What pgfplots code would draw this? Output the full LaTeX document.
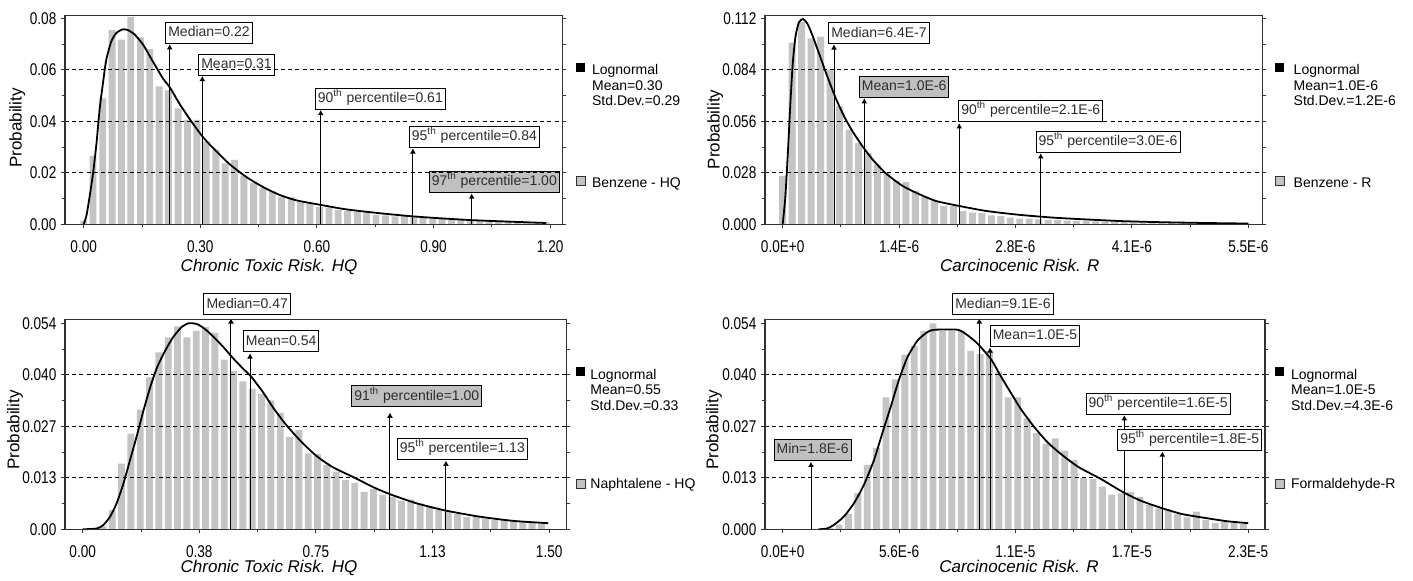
\documentclass[border=0pt]{standalone}
\usepackage{fontspec}
\setmainfont{Liberation Sans}
\newfontfamily\tickfamily{Liberation Sans}[FakeStretch=0.8]
\usepackage{pgfplots}
\pgfplotsset{compat=1.18}
\usetikzlibrary{arrows.meta}
\definecolor{bargray}{RGB}{196,196,196}
\definecolor{boxgray}{RGB}{192,192,192}
\definecolor{txtgray}{RGB}{45,45,45}
\definecolor{axgray}{RGB}{50,50,50}
\newcommand{\tickfont}{\tickfamily\fontsize{8.5}{9.5}\selectfont}
\newcommand{\boxfont}{\fontsize{7}{8}\selectfont}
\newcommand{\legfont}{\fontsize{7}{8}\selectfont}
\newcommand{\ord}[1]{#1\textsuperscript{th}}
\tikzset{
  lbl/.style={draw=black, line width=0.5pt, fill=white, font=\boxfont, text=txtgray,
    inner xsep=1.3pt, inner ysep=0pt, minimum height=10.5pt, text height=5.1pt, text depth=1.4pt,
    anchor=south west, outer sep=0pt},
  glbl/.style={lbl, fill=boxgray},
  legtxt/.style={anchor=base west, font=\legfont, inner sep=0pt, text=black},
}
\pgfplotsset{
  risk/.style={
    scale only axis, anchor=south west, clip=false, axis on top,
    scaled ticks=false,
    axis line style={axgray, line width=0.75pt},
    tick style={axgray, line width=0.5pt},
    tick align=outside, major tick length=1.8pt, minor tick length=1.6pt,
    xtick pos=left, ytick pos=both,
    ymin=0,
    ymajorgrids,
    major grid style={black, line width=0.45pt, dash pattern=on 2pt off 1.6pt},
    extra y tick style={grid=none},
    tick label style={font=\tickfont, text=black},
    xticklabel shift=3.0pt,
    yticklabel shift=-1pt,
    ylabel={Probability},
    ylabel style={font=\fontsize{8.5}{10}\selectfont, anchor=center},
    xlabel style={font=\itshape\fontsize{8.5}{10}\selectfont, anchor=base},
  },
  hist/.style={ybar, bar shift=0pt, bar width=#1, fill=bargray, draw=none, mark=none},
  fit/.style={black, line width=0.9pt, smooth, tension=0.4, mark=none},
  arr/.style={black, line width=0.5pt, mark=none, -{Latex[length=2.6pt,width=3pt]}},
}
\begin{document}
\begin{tikzpicture}
\useasboundingbox (0,0) rectangle (706.5pt,290.5pt);

% ---------------- Panel 1: Benzene - HQ ----------------
\begin{axis}[risk, at={(32.5pt,178.35pt)}, width=248.85pt, height=104.3pt,
  xmin=-0.0481, xmax=1.2323, ymax=0.0810,
  xtick={0,0.3,0.6,0.9,1.2}, xticklabels={0.00,0.30,0.60,0.90,1.20},
  minor xtick={0.15,0.45,0.75,1.05},
  ytick={0.02,0.04,0.06}, yticklabels={0.02,0.04,0.06},
  extra y ticks={0,0.08}, extra y tick labels={0.00,0.08},
  minor ytick={0.01,0.03,0.05,0.07},
  xlabel={Chronic Toxic Risk. HQ},
  xlabel style={at={(axis description cs:0.41,-0.224)}},
  ylabel style={at={(axis description cs:-0.096,0.462)}}]
\addplot[hist=0.0177] coordinates {
(0.000,0.0014) (0.024,0.0266) (0.049,0.0489) (0.073,0.0754) (0.097,0.0717)
(0.121,0.0805) (0.146,0.0726) (0.170,0.0680) (0.194,0.0536) (0.218,0.0520)
(0.243,0.0450) (0.267,0.0405) (0.291,0.0405) (0.315,0.0322) (0.340,0.0290)
(0.364,0.0237) (0.388,0.0250) (0.412,0.0188) (0.437,0.0160) (0.461,0.0141)
(0.485,0.0128) (0.509,0.0105) (0.534,0.0105) (0.558,0.0088) (0.582,0.0084)
(0.607,0.0068) (0.631,0.0065) (0.655,0.0055) (0.679,0.0051) (0.704,0.0048)
(0.728,0.0044) (0.752,0.0036) (0.776,0.0035) (0.801,0.0031) (0.825,0.0032)
(0.849,0.0027) (0.873,0.0025) (0.898,0.0023) (0.922,0.0021) (0.946,0.0019)
(0.970,0.0018) (0.995,0.0016) (1.019,0.0015) (1.043,0.0013) (1.067,0.0012)
(1.092,0.0011) (1.116,0.0010) (1.140,0.0009) (1.164,0.0008) (1.189,0.0007)};
\addplot[fit] coordinates {
(0,0) (0.007,0.0033) (0.015,0.0105) (0.024,0.0197) (0.033,0.0316) (0.041,0.0447)
(0.050,0.0553) (0.058,0.0638) (0.071,0.0710) (0.084,0.0743) (0.101,0.0757)
(0.114,0.0754) (0.131,0.0737) (0.153,0.0697) (0.178,0.0632) (0.204,0.0566)
(0.221,0.0533) (0.247,0.0467) (0.273,0.0408) (0.305,0.0342) (0.333,0.0296)
(0.375,0.0234) (0.418,0.0184) (0.461,0.0145) (0.504,0.0114) (0.547,0.0093)
(0.607,0.0076) (0.675,0.0058) (0.761,0.0043) (0.845,0.0031) (0.920,0.0023)
(1.000,0.0016) (1.100,0.0010) (1.190,0.0005)};
\addplot[arr] coordinates {(0.2213,0) (0.2213,0.0699)};
\addplot[arr] coordinates {(0.3051,0) (0.3051,0.0576)};
\addplot[arr] coordinates {(0.6097,0) (0.6097,0.0444)};
\addplot[arr] coordinates {(0.8470,0) (0.8470,0.0295)};
\addplot[arr] coordinates {(0.9982,0) (0.9982,0.0120)};
\node[lbl] at (axis cs:0.2110,0.0702) {Median=0.22};
\node[lbl] at (axis cs:0.2959,0.0579) {Mean=0.31};
\node[lbl] at (axis cs:0.5958,0.0447) {\ord{90} percentile=0.61};
\node[lbl] at (axis cs:0.8377,0.0298) {\ord{95} percentile=0.84};
\node[glbl] at (axis cs:0.8891,0.0123) {\ord{97} percentile=1.00};
\end{axis}

% ---------------- Panel 2: Benzene - R ----------------
\begin{axis}[risk, at={(382.5pt,178.35pt)}, width=248.85pt, height=104.3pt,
  xmin=-0.209, xmax=5.670, ymax=0.1134,
  xtick={0,1.375,2.75,4.125,5.5}, xticklabels={0.0E+0,1.4E-6,2.8E-6,4.1E-6,5.5E-6},
  minor xtick={0.6875,2.0625,3.4375,4.8125},
  ytick={0.028,0.056,0.084}, yticklabels={0.028,0.056,0.084},
  extra y ticks={0,0.112}, extra y tick labels={0.000,0.112},
  minor ytick={0.014,0.042,0.070,0.098},
  xlabel={Carcinocenic Risk. R},
  xlabel style={at={(axis description cs:0.512,-0.224)}},
  ylabel style={at={(axis description cs:-0.100,0.455)}}]
\addplot[hist=0.082] coordinates {
(0.000,0.0262) (0.112,0.0988) (0.224,0.1100) (0.336,0.1010) (0.448,0.1020)
(0.560,0.0840) (0.672,0.0641) (0.784,0.0515) (0.896,0.0443) (1.008,0.0388)
(1.120,0.0325) (1.232,0.0280) (1.344,0.0235) (1.456,0.0229) (1.568,0.0180)
(1.680,0.0150) (1.792,0.0126) (1.904,0.0099) (2.016,0.0099) (2.128,0.0072)
(2.240,0.0063) (2.352,0.0060) (2.464,0.0049) (2.576,0.0045) (2.688,0.0036)
(2.800,0.0031) (2.912,0.0031) (3.024,0.0027) (3.136,0.0024) (3.248,0.0022)
(3.360,0.0020) (3.472,0.0019) (3.584,0.0017) (3.696,0.0016) (3.808,0.0015)
(3.920,0.0013) (4.032,0.0012) (4.144,0.0011) (4.256,0.0010) (4.368,0.0009)
(4.480,0.0009) (4.592,0.0008) (4.704,0.0007) (4.816,0.0007) (4.928,0.0006)
(5.040,0.0006) (5.152,0.0005) (5.264,0.0005) (5.376,0.0004) (5.488,0.0004)};
\addplot[fit] coordinates {
(0,0) (0.032,0.0154) (0.063,0.0406) (0.091,0.0660) (0.119,0.0876) (0.151,0.1020)
(0.190,0.1096) (0.238,0.1116) (0.289,0.1093) (0.349,0.1030) (0.428,0.0930)
(0.527,0.0804) (0.626,0.0686) (0.725,0.0587) (0.824,0.0506) (0.943,0.0424)
(1.062,0.0352) (1.220,0.0276) (1.418,0.0208) (1.616,0.0163) (1.815,0.0126)
(2.092,0.0099) (2.409,0.0072) (2.805,0.0051) (3.201,0.0036) (3.600,0.0026)
(4.020,0.0017) (4.500,0.0011) (5.000,0.0007) (5.500,0.0004)};
\addplot[arr] coordinates {(0.606,0) (0.606,0.0978)};
\addplot[arr] coordinates {(0.964,0) (0.964,0.0685)};
\addplot[arr] coordinates {(2.086,0) (2.086,0.0549)};
\addplot[arr] coordinates {(3.048,0) (3.048,0.0386)};
\node[lbl] at (axis cs:0.5434,0.0981) {Median=6.4E-7};
\node[glbl] at (axis cs:0.905,0.0688) {Mean=1.0E-6};
\node[lbl] at (axis cs:2.079,0.0558) {\ord{90} percentile=2.1E-6};
\node[lbl] at (axis cs:2.992,0.0389) {\ord{95} percentile=3.0E-6};
\end{axis}

% ---------------- Panel 3: Naphtalene - HQ ----------------
\begin{axis}[risk, at={(32.5pt,25.85pt)}, width=250.85pt, height=105pt,
  xmin=-0.0569, xmax=1.5563, ymax=0.05505,
  xtick={0,0.375,0.75,1.125,1.5}, xticklabels={0.00,0.38,0.75,1.13,1.50},
  minor xtick={0.1875,0.5625,0.9375,1.3125},
  ytick={0.0135,0.027,0.0405}, yticklabels={0.013,0.027,0.040},
  extra y ticks={0,0.054}, extra y tick labels={0.00,0.054},
  minor ytick={0.00675,0.02025,0.03375,0.04725},
  xlabel={Chronic Toxic Risk. HQ},
  xlabel style={at={(axis description cs:0.4066,-0.204)}},
  ylabel style={at={(axis description cs:-0.0997,0.473)}}]
\addplot[hist=0.022] coordinates {
(0.065,0.0008) (0.095,0.0050) (0.125,0.0172) (0.155,0.0251) (0.185,0.0314)
(0.215,0.0398) (0.245,0.0464) (0.275,0.0503) (0.305,0.0532) (0.335,0.0503)
(0.365,0.0520) (0.395,0.0530) (0.425,0.0515) (0.455,0.0445) (0.485,0.0415)
(0.515,0.0388) (0.545,0.0368) (0.575,0.0355) (0.605,0.0338) (0.635,0.0305)
(0.665,0.0242) (0.695,0.0260) (0.725,0.0199) (0.755,0.0197) (0.785,0.0168)
(0.815,0.0151) (0.845,0.0129) (0.875,0.0122) (0.905,0.0098) (0.935,0.0105)
(0.965,0.0090) (0.995,0.0085) (1.025,0.0075) (1.055,0.0078) (1.085,0.0068)
(1.115,0.0060) (1.145,0.0052) (1.175,0.0048) (1.205,0.0040) (1.235,0.0032)
(1.265,0.0035) (1.295,0.0028) (1.325,0.0024) (1.355,0.0026) (1.385,0.0021)
(1.415,0.0019) (1.445,0.0017) (1.475,0.0014)};
\addplot[fit] coordinates {
(0,0) (0.045,0.0002) (0.066,0.0011) (0.088,0.0033) (0.109,0.0068) (0.131,0.0120)
(0.152,0.0181) (0.174,0.0245) (0.195,0.0310) (0.217,0.0372) (0.238,0.0422)
(0.265,0.0468) (0.292,0.0505) (0.318,0.0530) (0.340,0.0540) (0.367,0.0538)
(0.393,0.0525) (0.420,0.0505) (0.452,0.0478) (0.484,0.0448) (0.517,0.0420)
(0.542,0.0400) (0.581,0.0358) (0.613,0.0318) (0.653,0.0275) (0.700,0.0232)
(0.752,0.0192) (0.806,0.0162) (0.880,0.0133) (0.930,0.0112) (0.988,0.0092)
(1.074,0.0068) (1.168,0.0049) (1.277,0.0033) (1.385,0.0022) (1.497,0.0016)};
\addplot[arr] coordinates {(0.4768,0) (0.4768,0.0553)};
\addplot[arr] coordinates {(0.538,0) (0.538,0.0461)};
\addplot[arr] coordinates {(0.988,0) (0.988,0.0306)};
\addplot[arr] coordinates {(1.168,0) (1.168,0.0180)};
\node[lbl] at (axis cs:0.390,0.0562) {Median=0.47};
\node[lbl] at (axis cs:0.5164,0.0465) {Mean=0.54};
\node[glbl] at (axis cs:0.865,0.0321) {\ord{91} percentile=1.00};
\node[lbl] at (axis cs:1.0116,0.0183) {\ord{95} percentile=1.13};
\end{axis}

% ---------------- Panel 4: Formaldehyde-R ----------------
\begin{axis}[risk, at={(382.5pt,25.85pt)}, width=250pt, height=105pt,
  xmin=-0.855, xmax=23.31, ymax=0.05505,
  xtick={0,5.625,11.25,16.875,22.5}, xticklabels={0.0E+0,5.6E-6,1.1E-5,1.7E-5,2.3E-5},
  minor xtick={2.8125,8.4375,14.0625,19.6875},
  ytick={0.0135,0.027,0.0405}, yticklabels={0.013,0.027,0.040},
  extra y ticks={0,0.054}, extra y tick labels={0.000,0.054},
  minor ytick={0.00675,0.02025,0.03375,0.04725},
  xlabel={Carcinocenic Risk. R},
  xlabel style={at={(axis description cs:0.508,-0.204)}},
  ylabel style={at={(axis description cs:-0.102,0.473)}}]
\addplot[hist=0.33] coordinates {
(2.268,0.0003) (2.723,0.0012) (3.177,0.0040) (3.632,0.0095) (4.086,0.0169)
(4.541,0.0213) (4.995,0.0346) (5.450,0.0393) (5.904,0.0458) (6.359,0.0480)
(6.813,0.0520) (7.268,0.0540) (7.722,0.0520) (8.177,0.0520) (8.631,0.0520)
(9.086,0.0468) (9.540,0.0460) (9.995,0.0468) (10.449,0.0413) (10.904,0.0346)
(11.358,0.0346) (11.813,0.0291) (12.267,0.0252) (12.722,0.0223) (13.176,0.0238)
(13.631,0.0206) (14.085,0.0182) (14.540,0.0134) (14.994,0.0132) (15.449,0.0112)
(15.903,0.0091) (16.358,0.0094) (16.812,0.0098) (17.267,0.0085) (17.721,0.0064)
(18.176,0.0055) (18.630,0.0051) (19.085,0.0040) (19.539,0.0031) (19.994,0.0046)
(20.448,0.0024) (20.903,0.0016) (21.357,0.0020) (21.812,0.0018) (22.266,0.0014)};
\addplot[fit] coordinates {
(1.73,0) (2.14,0.0002) (2.46,0.0011) (2.95,0.0033) (3.44,0.0068) (3.92,0.0116)
(4.41,0.0181) (4.81,0.0251) (5.22,0.0321) (5.62,0.0392) (6.03,0.0451) (6.52,0.0495)
(7.00,0.0517) (7.33,0.0523) (8.46,0.0523) (8.95,0.0508) (9.43,0.0486) (10.08,0.0445)
(10.50,0.0405) (11.00,0.0360) (11.50,0.0316) (12.10,0.0272) (12.80,0.0228)
(13.50,0.0195) (14.30,0.0163) (15.34,0.0133) (16.46,0.0097) (17.30,0.0075)
(18.24,0.0057) (19.30,0.0040) (20.50,0.0029) (21.50,0.0021) (22.50,0.0016)};
\addplot[arr] coordinates {(1.368,0) (1.368,0.0177)};
\addplot[arr] coordinates {(9.502,0) (9.502,0.0553)};
\addplot[arr] coordinates {(10.02,0) (10.02,0.0477)};
\addplot[arr] coordinates {(16.51,0) (16.51,0.0299)};
\addplot[arr] coordinates {(18.35,0) (18.35,0.0204)};
\node[glbl] at (axis cs:-0.42,0.0180) {Min=1.8E-6};
\node[lbl] at (axis cs:8.217,0.0562) {Median=9.1E-6};
\node[lbl] at (axis cs:10.03,0.0480) {Mean=1.0E-5};
\node[lbl] at (axis cs:14.66,0.0302) {\ord{90} percentile=1.6E-5};
\node[lbl] at (axis cs:16.19,0.0206) {\ord{95} percentile=1.8E-5};
\end{axis}

% ---------------- Legends ----------------
% panel 1
\fill[black] (288pt,254.25pt) rectangle ++(4.5pt,4.5pt);
\filldraw[fill=bargray, draw=axgray, line width=0.4pt] (288pt,197.75pt) rectangle ++(4.5pt,4.5pt);
\node[legtxt] at (295.85pt,253pt) {Lognormal};
\node[legtxt] at (295.85pt,245.25pt) {Mean=0.30};
\node[legtxt] at (295.85pt,237.5pt) {Std.Dev.=0.29};
\node[legtxt] at (295.85pt,196.85pt) {Benzene - HQ};
% panel 2
\fill[black] (637.5pt,254.25pt) rectangle ++(4.5pt,4.5pt);
\filldraw[fill=bargray, draw=axgray, line width=0.4pt] (637.5pt,197.75pt) rectangle ++(4.5pt,4.5pt);
\node[legtxt] at (646.65pt,253pt) {Lognormal};
\node[legtxt] at (646.65pt,245.25pt) {Mean=1.0E-6};
\node[legtxt] at (646.65pt,237.5pt) {Std.Dev.=1.2E-6};
\node[legtxt] at (646.65pt,196.85pt) {Benzene - R};
% panel 3
\fill[black] (288pt,102.4pt) rectangle ++(4.5pt,4.5pt);
\filldraw[fill=bargray, draw=axgray, line width=0.4pt] (288pt,46.35pt) rectangle ++(4.5pt,4.5pt);
\node[legtxt] at (295pt,100.75pt) {Lognormal};
\node[legtxt] at (295pt,93pt) {Mean=0.55};
\node[legtxt] at (295pt,85.25pt) {Std.Dev.=0.33};
\node[legtxt] at (295pt,46.35pt) {Naphtalene - HQ};
% panel 4
\fill[black] (637.65pt,102.4pt) rectangle ++(4.5pt,4.5pt);
\filldraw[fill=bargray, draw=axgray, line width=0.4pt] (637.65pt,46.35pt) rectangle ++(4.5pt,4.5pt);
\node[legtxt] at (645.35pt,100.75pt) {Lognormal};
\node[legtxt] at (645.35pt,93pt) {Mean=1.0E-5};
\node[legtxt] at (645.35pt,85.25pt) {Std.Dev.=4.3E-6};
\node[legtxt] at (645.35pt,46.35pt) {Formaldehyde-R};
\end{tikzpicture}
\end{document}
